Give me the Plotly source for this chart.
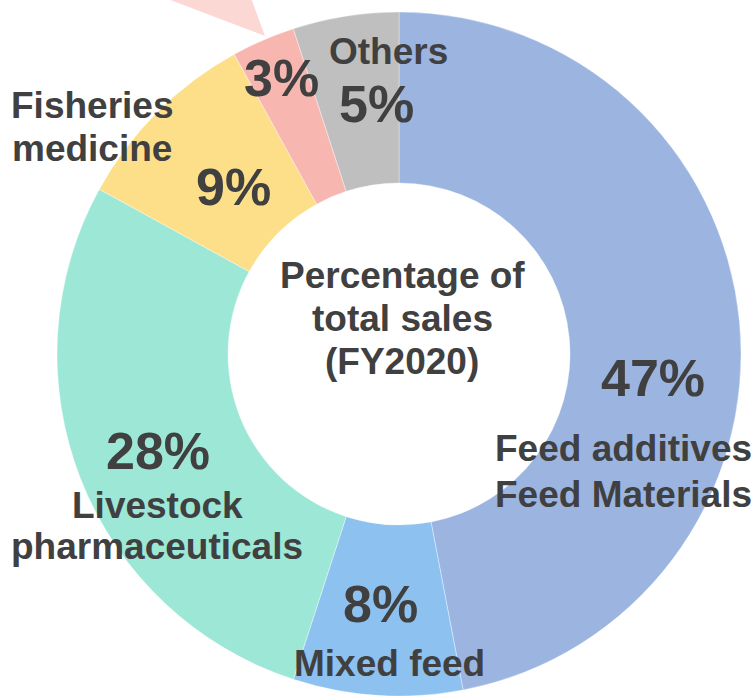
import plotly.graph_objects as go

W, H = 755, 696

# share of total sales, clockwise from 12 o'clock
segments = ["Feed additives / Feed Materials", "Mixed feed", "Livestock pharmaceuticals",
            "Fisheries medicine", "Other (3%)", "Others"]
shares = [47, 8, 28, 9, 3, 5]
colors = ["#9BB4E0", "#8DC1F0", "#9DE7D7", "#FDDF8A", "#F8B6B1", "#BFBFBF"]

center_lines = ["Percentage of", "total sales", "(FY2020)"]

TXT = "#404040"
FONT = "Liberation Sans, Arial, sans-serif"


def px(x, y):
    return x / W, 1 - y / H


fig = go.Figure()

fig.add_trace(go.Pie(
    labels=segments,
    values=shares,
    sort=False,
    direction="clockwise",
    rotation=0,
    hole=0.5,
    textinfo="none",
    hoverinfo="label+percent",
    marker=dict(colors=colors, line=dict(color="rgba(255,255,255,0.6)", width=0.6)),
    domain=dict(x=[0.057, 1.0], y=[0.0, 1 - 12 / H]),
    showlegend=False,
))

annotations = []


def note(text, x, y, size):
    ax, ay = px(x, y)
    annotations.append(dict(
        text=text, x=ax, y=ay, xref="paper", yref="paper",
        xanchor="center", yanchor="middle", showarrow=False,
        font=dict(family=FONT, size=size, color=TXT, weight="bold"),
    ))


# percentage labels (position per slice)
pct_pos = [(653, 378), (381, 604), (158, 451), (233, 187), (281, 78), (376, 104)]
for v, (x, y) in zip(shares, pct_pos):
    note(f"{v}%", x, y, 52)

# category labels
note("Feed additives", 623, 449, 37)
note("Feed Materials", 623, 495, 37)
note("Mixed feed", 389, 663, 37)
note("Livestock", 157, 505, 37)
note("pharmaceuticals", 157, 546, 37)
note("Fisheries", 92, 105, 37)
note("medicine", 92, 149, 37)
note("Others", 388, 51, 37)

# centre title
for line, y in zip(center_lines, [275, 319, 362]):
    note(line, 402, y, 37)

# callout pointer of the 3% slice
p1 = px(265, 36)
p2 = px(165, -2)
p3 = px(251, -2)
fig.add_shape(
    type="path", xref="paper", yref="paper",
    path=f"M {p1[0]} {p1[1]} L {p2[0]} {p2[1]} L {p3[0]} {p3[1]} Z",
    fillcolor="#FCD8D5", line=dict(width=0), layer="above",
)

fig.update_layout(
    width=W, height=H,
    margin=dict(l=0, r=0, t=0, b=0),
    paper_bgcolor="white",
    plot_bgcolor="white",
    annotations=annotations,
)

fig.write_html(
    "out.html",
    config={"displayModeBar": False},
    post_script="document.body.style.margin='0';document.body.style.overflow='hidden';",
)
